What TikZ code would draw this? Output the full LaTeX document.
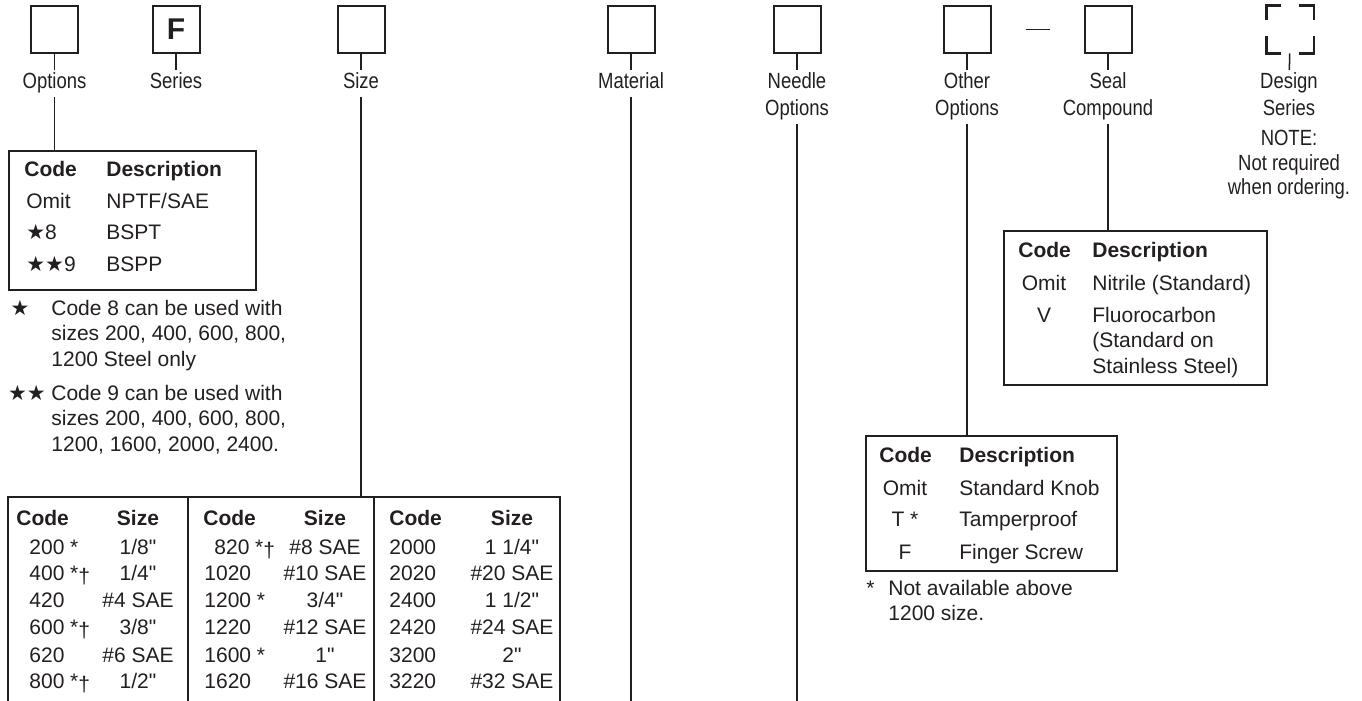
\documentclass[tikz,border=0pt]{standalone}
\usepackage{fontspec}
\setmainfont{Liberation Sans}[Ligatures=TeXOff]
\newfontfamily\condfont[FakeStretch=0.84]{Liberation Sans}
\newfontfamily\starfont{DejaVu Sans}
\usetikzlibrary{positioning}

\definecolor{ink}{RGB}{35,31,32}
\newcommand{\tabfont}{\fontsize{10.5}{12.6}\selectfont}
\newcommand{\bstar}{{\starfont\fontsize{10.5}{12}\selectfont ★}}
\newcommand{\dg}{\raisebox{-1.5pt}{†}}

\tikzset{
	digit/.style={draw=ink,line width=1pt,minimum size=23.5pt,inner sep=0pt},
	lbl/.style={font=\condfont\fontsize{11}{13.5}\selectfont,text=ink,align=center,inner sep=1pt,text depth=3pt,anchor=north},
	notelbl/.style={font=\condfont\fontsize{11}{12.25}\selectfont,text=ink,align=center,inner sep=0pt,anchor=north},
	stem/.style={draw=ink,line width=0.75pt},
	tbox/.style={draw=ink,line width=0.9pt,inner sep=0pt,anchor=north west},
	tline/.style={draw=ink,line width=0.9pt},
	txt/.style={font=\tabfont,text=ink,inner sep=0pt,text height=7.5pt,text depth=0pt,anchor=west},
	ctxt/.style={txt,anchor=center},
	hd/.style={txt,font=\tabfont\bfseries},
	chd/.style={hd,anchor=center},
	para/.style={font=\tabfont,text=ink,inner sep=0pt,align=left,anchor=north west},
}

\begin{document}
\begin{tikzpicture}[x=0.5pt,y=-0.5pt]
	\useasboundingbox (0,0) rectangle (1362,701);
	
	% code boxes along the top
	\node[digit] (opt) at (54.5,29.5) {};
	\node[digit,font=\fontsize{15}{18}\selectfont\bfseries,text=ink] (ser) at (176,29.5) {F};
	\node[digit] (size) at (361,29.5) {};
	\node[digit] (mat) at (631,29.5) {};
	\node[digit] (ndl) at (797,29.5) {};
	\node[digit] (oth) at (967,29.5) {};
	\node[digit] (seal) at (1108,29.5) {};
	\node[minimum size=23.5pt,inner sep=0pt] (dsgn) at (1290,29.5) {};
	
	\draw[tline] ([xshift=17pt]oth.east) -- ([xshift=-17pt]seal.west);
	
	% design series: corners only
	\draw[draw=ink,line width=1.4pt] ([yshift=-7pt]dsgn.north west) -- (dsgn.north west) -- ([xshift=7.5pt]dsgn.north west);
	\draw[draw=ink,line width=1.4pt] ([yshift=-7pt]dsgn.north east) -- (dsgn.north east) -- ([xshift=-7.5pt]dsgn.north east);
	\draw[draw=ink,line width=1.4pt] ([yshift=8.5pt]dsgn.south west) -- (dsgn.south west) -- ([xshift=7.5pt]dsgn.south west);
	\draw[draw=ink,line width=1.4pt] ([yshift=8.5pt]dsgn.south east) -- (dsgn.south east) -- ([xshift=-7.5pt]dsgn.south east);
	
	% labels
	\node[lbl] (optlbl) at (54.5,70) {Options};
	\node[lbl] (serlbl) at (176,70) {Series};
	\node[lbl] (sizelbl) at (361,70) {Size};
	\node[lbl] (matlbl) at (631,70) {Material};
	\node[lbl] (ndllbl) at (797,70) {Needle\\Options};
	\node[lbl] (othlbl) at (967,70) {Other\\Options};
	\node[lbl] (seallbl) at (1108,70) {Seal\\Compound};
	\node[lbl] (dsgnlbl) at (1289,70) {Design\\Series};
	\node[notelbl] (dsgnnote) at (1289,130) {NOTE:\\Not required\\when ordering.};
	
	\foreach \b in {opt,ser,size,mat,ndl,oth,seal,dsgn}
		\draw[stem] (\b) -- (\b lbl);
	
	% tables
	\node[tbox,minimum width=123.5pt,minimum height=69.5pt] (opttab) at (8,150) {};
	\node[tbox,minimum width=131.5pt,minimum height=77pt] (sealtab) at (1003,230) {};
	\node[tbox,minimum width=125.5pt,minimum height=67.5pt] (othtab) at (865,435) {};
	\coordinate (sztop) at (361,497);
	\coordinate (matend) at (631,701);
	\coordinate (ndlend) at (797,701);
	
	\draw[tline] (8,701) -- (8,497) -- (560,497) -- (560,701);
	\draw[tline] (188,497) -- (188,701);
	\draw[tline] (374,497) -- (374,701);
	
	\draw[stem] (optlbl.south) -- (optlbl.south |- opttab.north);
	\draw[stem] (sizelbl.south) -- (sztop);
	\draw[stem] (matlbl.south) -- (matend);
	\draw[stem] (ndllbl.south) -- (ndlend);
	\draw[stem] (othlbl.south) -- (othlbl.south |- othtab.north);
	\draw[stem] (seallbl.south) -- (seallbl.south |- sealtab.north);
	
	% options table
	\node[hd] (optch) at (24,169) {Code};
	\node[hd] (optdh) at (106,169) {Description};
	\foreach \y/\c/\d [count=\i] in {201/Omit/{NPTF/SAE},232/{\bstar8}/BSPT,264/{\bstar\bstar9}/BSPP} {
		\node[txt] (optc\i) at (26,\y) {\c};
		\node[txt] (optd\i) at (106,\y) {\d};
	}
	\node[ctxt] (fn1s) at (20,308) {\bstar};
	\node[para] (fn1) at (51,300) {Code 8 can be used with\\sizes 200, 400, 600, 800,\\1200 Steel only};
	\node[ctxt] (fn2s) at (27,393) {\bstar\bstar};
	\node[para] (fn2) at (51,385) {Code 9 can be used with\\sizes 200, 400, 600, 800,\\1200, 1600, 2000, 2400.};
	
	% size table
	\foreach \cx/\sx [count=\k] in {16/138,203/325,389/512} {
		\node[hd] (szch\k) at (\cx,518) {Code};
		\node[chd] (szsh\k) at (\sx,518) {Size};
	}
	\foreach \y/\c/\s [count=\i] in {547/{200 *}/{1/8"},573/{400 *\dg}/{1/4"},600/{420}/{\#4 SAE},627/{600 *\dg}/{3/8"},655/{620}/{\#6 SAE},681/{800 *\dg}/{1/2"}} {
		\node[txt] (sza\i) at (29,\y) {\c};
		\node[ctxt] (szas\i) at (138,\y) {\s};
	}
	\foreach \y/\c/\s [count=\i] in {547/{\kern5pt820 *\dg}/{\#8 SAE},573/{1020}/{\#10 SAE},600/{1200 *}/{3/4"},627/{1220}/{\#12 SAE},655/{1600 *}/{1"},681/{1620}/{\#16 SAE}} {
		\node[txt] (szb\i) at (204,\y) {\c};
		\node[ctxt] (szbs\i) at (325,\y) {\s};
	}
	\foreach \y/\c/\s [count=\i] in {547/{2000}/{1 1/4"},573/{2020}/{\#20 SAE},600/{2400}/{1 1/2"},627/{2420}/{\#24 SAE},655/{3200}/{2"},681/{3220}/{\#32 SAE}} {
		\node[txt] (szc\i) at (389,\y) {\c};
		\node[ctxt] (szcs\i) at (512,\y) {\s};
	}
	
	% seal compound table
	\node[hd] (sealch) at (1018,250) {Code};
	\node[hd] (sealdh) at (1092,250) {Description};
	\node[ctxt] (sealc1) at (1044,283) {Omit};
	\node[txt] (seald1) at (1092,283) {Nitrile (Standard)};
	\node[ctxt] (sealc2) at (1044,315) {V};
	\node[para] (seald2) at (1092,307) {Fluorocarbon\\(Standard on\\Stainless Steel)};
	
	% other options table
	\node[hd] (othch) at (879,455) {Code};
	\node[hd] (othdh) at (959,455) {Description};
	\foreach \y/\c/\d [count=\i] in {488/Omit/Standard Knob,519/{T *}/Tamperproof,552/F/Finger Screw} {
		\node[ctxt] (othc\i) at (905,\y) {\c};
		\node[txt] (othd\i) at (959,\y) {\d};
	}
	\node[txt] (othfns) at (866,588) {*};
	\node[para] (othfn) at (888,580) {Not available above\\1200 size.};
\end{tikzpicture}
\end{document}
